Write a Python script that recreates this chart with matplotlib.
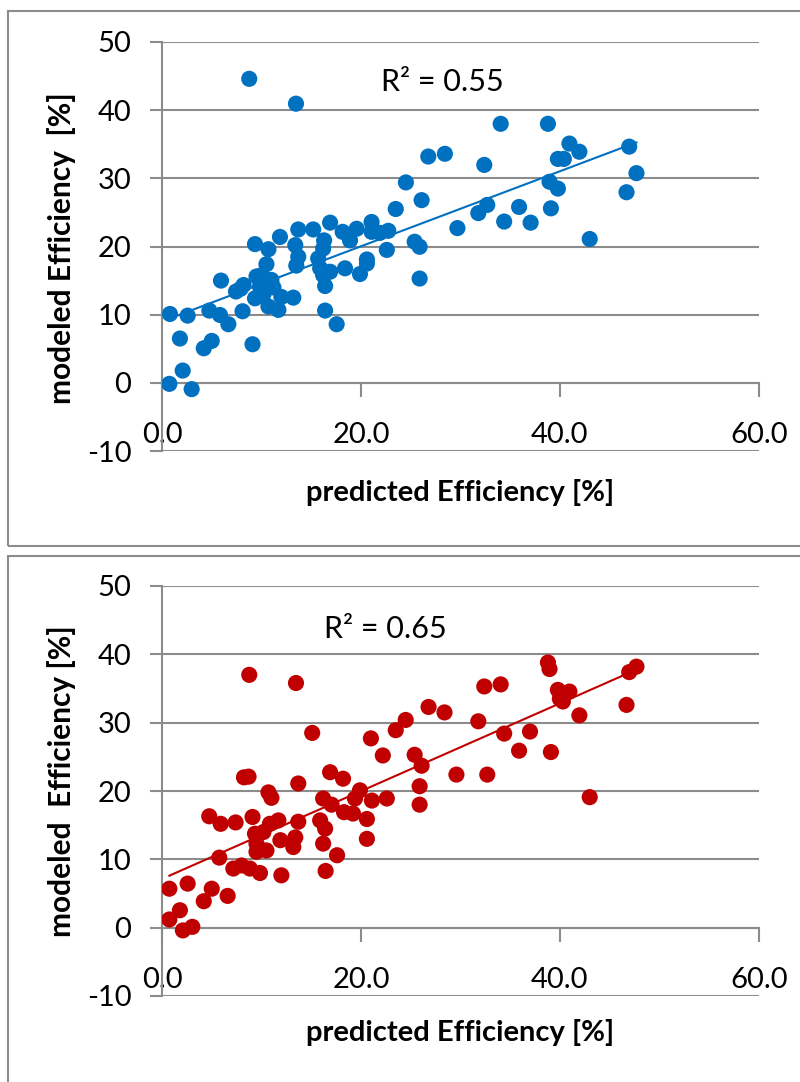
import matplotlib
matplotlib.use("Agg")
import matplotlib.pyplot as plt
from matplotlib.patches import Rectangle
import numpy as np

plt.rcParams['font.family'] = ['Lato', 'DejaVu Sans']
plt.rcParams['axes.unicode_minus'] = False

# predicted vs modeled efficiency, model A (blue)
pred_a = [8.77, 13.47, 26.77, 28.44, 24.52, 26.1, 23.5, 29.7, 34.05, 38.8, 40.96, 41.96,
          39.8, 40.4, 46.97, 47.7, 32.4, 38.96, 39.8, 46.7, 32.7, 31.8, 35.9, 39.1, 34.4,
          37.06, 43.0, 16.9, 13.7, 15.2, 11.86, 9.35, 10.7, 13.4, 18.16, 19.57, 18.9, 21.07,
          21.07, 22.75, 21.9, 16.3, 16.2, 22.6, 25.4, 25.9, 25.9, 10.5, 13.7, 13.5, 15.7,
          15.9, 16.2, 16.9, 18.4, 19.9, 20.6, 20.6, 16.4, 16.4, 17.56, 9.5, 10.0, 11.0, 9.85,
          9.35, 7.44, 8.2, 5.93, 10.7, 11.7, 12.0, 13.2, 8.1, 4.76, 5.83, 6.67, 0.8, 2.58,
          1.8, 5.0, 4.2, 9.1, 2.08, 0.74, 2.98, 10.2, 11.2, 7.9]
model_a = [44.6, 40.95, 33.2, 33.6, 29.4, 26.8, 25.5, 22.7, 38.0, 38.0, 35.1, 33.9,
           32.85, 32.85, 34.65, 30.76, 31.97, 29.5, 28.5, 27.96, 26.1, 24.9, 25.8, 25.6, 23.66,
           23.5, 21.1, 23.5, 22.5, 22.5, 21.4, 20.35, 19.6, 20.2, 22.15, 22.6, 20.9, 23.6,
           22.15, 22.3, 22.0, 20.9, 19.7, 19.5, 20.7, 19.96, 15.3, 17.4, 18.5, 17.2, 18.25,
           16.8, 15.8, 16.3, 16.8, 15.96, 17.5, 18.1, 14.2, 10.6, 8.6, 15.6, 15.8, 15.1, 14.1,
           12.4, 13.4, 14.35, 15.0, 11.2, 10.7, 12.6, 12.5, 10.5, 10.6, 9.95, 8.6, 10.1, 9.86,
           6.5, 6.15, 5.07, 5.66, 1.8, -0.15, -0.93, 13.0, 14.0, 13.8]

# model B (red)
pred_b = [8.77, 13.47, 26.8, 28.4, 24.5, 23.5, 15.1, 21.0, 22.2, 25.4, 26.1, 29.6, 8.24,
          16.9, 18.2, 13.7, 10.7, 11.0, 19.9, 19.4, 21.1, 22.6, 25.9, 25.9, 16.2, 17.05, 18.3,
          19.2, 20.6, 20.6, 4.75, 5.9, 7.4, 9.1, 10.85, 11.7, 13.7, 13.4, 13.2, 11.9, 9.35,
          10.5, 9.5, 9.5, 15.9, 16.4, 16.2, 17.6, 16.45, 5.76, 7.17, 8.0, 8.84, 9.85, 12.0,
          0.74, 2.58, 5.0, 4.2, 6.6, 1.8, 0.74, 2.1, 3.05, 38.8, 38.96, 46.97, 47.7, 32.4,
          34.05, 39.8, 40.96, 40.0, 40.3, 41.96, 46.7, 31.8, 34.4, 37.0, 35.9, 39.1, 32.7,
          43.0, 8.7, 10.2]
model_b = [37.0, 35.8, 32.3, 31.5, 30.4, 28.9, 28.5, 27.7, 25.2, 25.3, 23.7, 22.4, 22.0,
           22.75, 21.8, 21.1, 19.8, 19.0, 20.1, 18.9, 18.6, 18.9, 20.7, 18.0, 18.9, 18.0, 16.9,
           16.7, 15.9, 13.0, 16.3, 15.2, 15.4, 16.2, 15.2, 15.7, 15.5, 13.2, 11.8, 12.8, 13.75,
           11.3, 12.3, 11.1, 15.7, 14.5, 12.3, 10.6, 8.3, 10.25, 8.65, 9.1, 8.65, 8.0, 7.66,
           5.7, 6.45, 5.7, 3.87, 4.65, 2.55, 1.2, -0.4, 0.12, 38.8, 37.85, 37.4, 38.2, 35.3,
           35.6, 34.8, 34.55, 33.5, 33.1, 31.07, 32.6, 30.2, 28.4, 28.7, 25.9, 25.7, 22.4,
           19.1, 22.1, 14.0]

x_ticks = [0, 20, 40, 60]
y_ticks = [-10, 0, 10, 20, 30, 40, 50]

grey = '#8c8c8c'
fig = plt.figure(figsize=(8, 10.82), dpi=100)

# panel frames
fig.patches.append(Rectangle((8 / 800, 1 - 546 / 1082), 1.0, 535 / 1082, transform=fig.transFigure,
                             fill=False, edgecolor=grey, lw=1.5))
fig.patches.append(Rectangle((8 / 800, -0.05), 1.0, 1 - 556 / 1082 + 0.05, transform=fig.transFigure,
                             fill=False, edgecolor=grey, lw=1.5))

panels = [
    (pred_a, model_a, '#0070C0', 'R² = 0.55', 28.2, 44.2, 'modeled Efficiency  [%]',
     [0.2025, 1 - 451 / 1082, 0.746, 409 / 1082], 248, 492),
    (pred_b, model_b, '#C00000', 'R² = 0.65', 22.5, 43.7, 'modeled  Efficiency [%]',
     [0.2025, 1 - 996 / 1082, 0.746, 410 / 1082], 781, 1032),
]

for xs, ys, col, r2, rx, ry, ylab, rect, ylab_y, xlab_y in panels:
    ax = fig.add_axes(rect)
    ax.set_xlim(0, 60)
    ax.set_ylim(-10, 50)
    for s in ['top', 'right']:
        ax.spines[s].set_visible(False)
    ax.spines['left'].set_color(grey)
    ax.spines['left'].set_linewidth(1.5)
    ax.spines['bottom'].set_position(('data', 0))
    ax.spines['bottom'].set_color(grey)
    ax.spines['bottom'].set_linewidth(1.5)
    ax.set_yticks(y_ticks)
    ax.set_xticks(x_ticks)
    ax.set_xticklabels([f'{v:.1f}' for v in x_ticks])
    ax.tick_params(axis='y', length=9, width=1.5, color=grey, labelsize=21, pad=13)
    ax.tick_params(axis='x', direction='out', length=10, width=1.5, color=grey, labelsize=21, pad=18)
    ax.grid(axis='y', color=grey, lw=1.5)
    ax.set_axisbelow(True)

    xs = np.array(xs)
    ys = np.array(ys)
    ax.scatter(xs, ys, s=135, color=col, edgecolors='none', zorder=3)
    k, b = np.polyfit(xs, ys, 1)
    fx = np.array([xs.min(), xs.max()])
    ax.plot(fx, k * fx + b, color=col, lw=1.5, zorder=4)
    ax.text(rx, ry, r2, fontsize=22, ha='center', va='center')

    fig.text(62 / 800, 1 - ylab_y / 1082, ylab, rotation=90, fontsize=21.5, fontweight='bold',
             ha='center', va='center')
    fig.text(460 / 800, 1 - xlab_y / 1082, 'predicted Efficiency [%]', fontsize=21,
             fontweight='bold', ha='center', va='center')

fig.savefig('out.png', dpi=100)
